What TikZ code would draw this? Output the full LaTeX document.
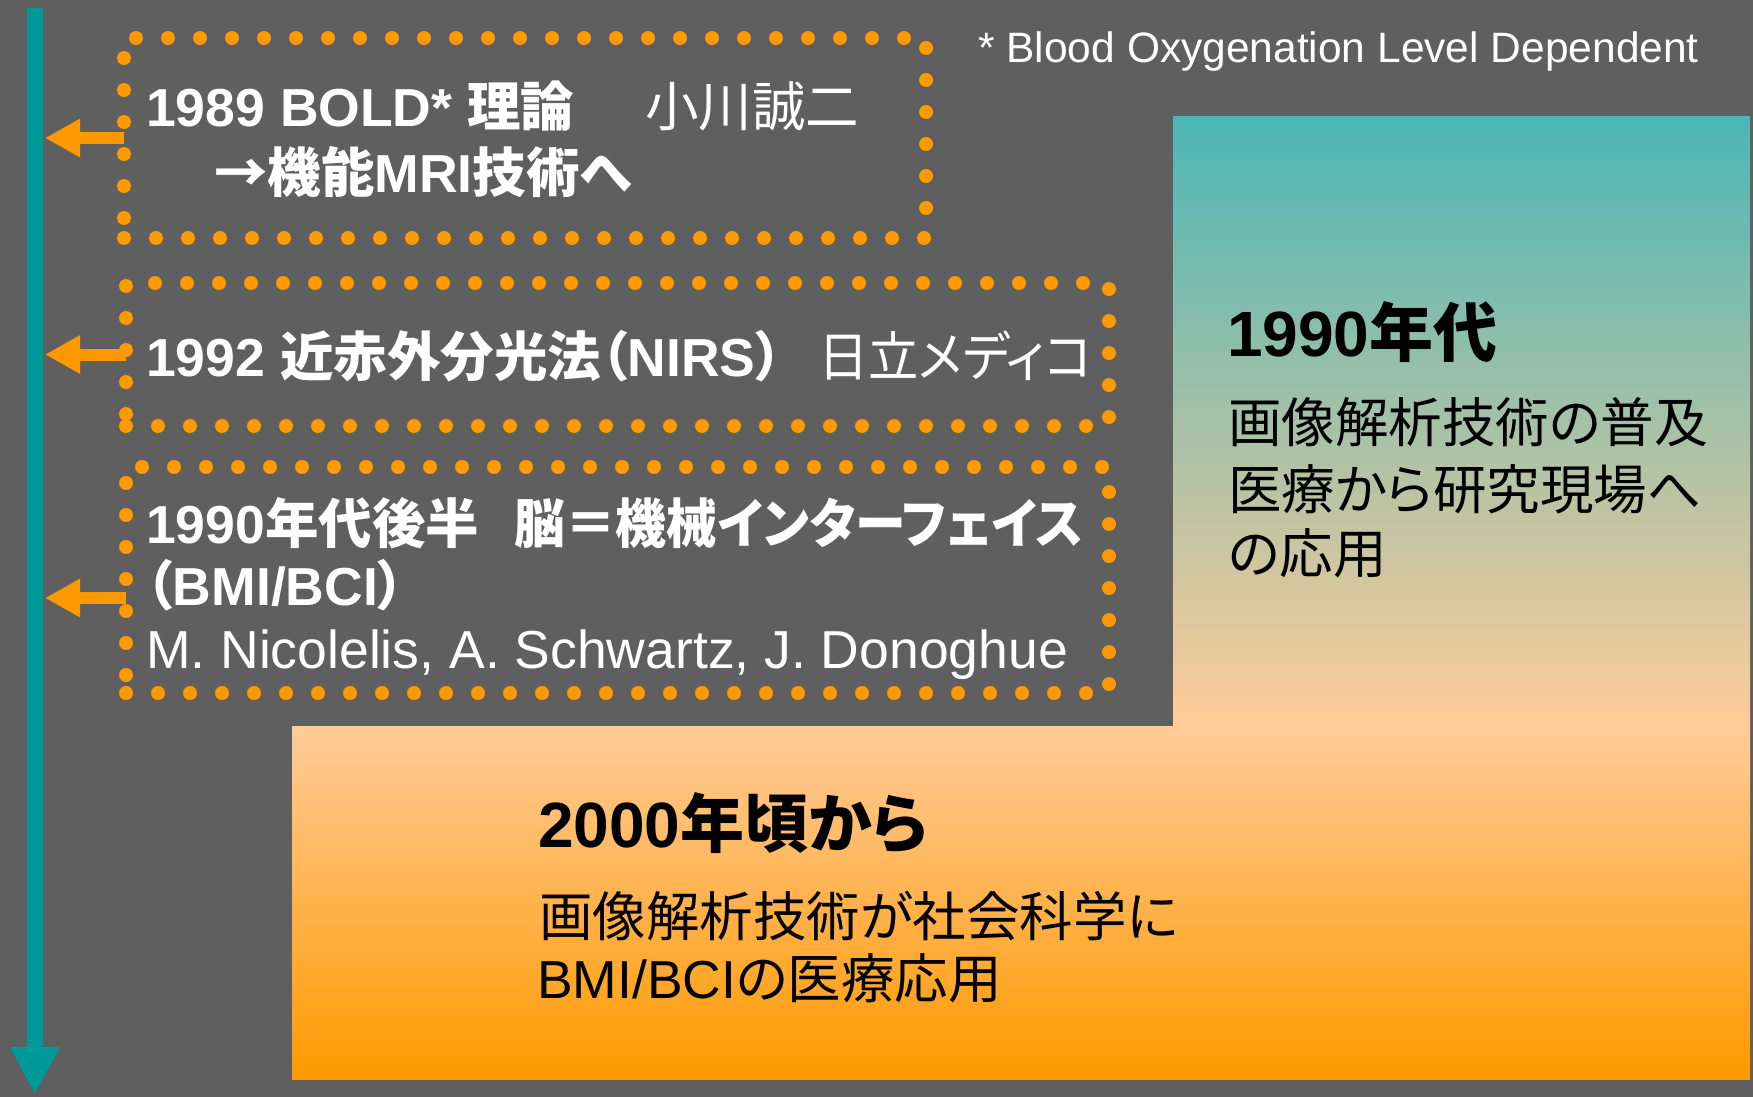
\documentclass[tikz,border=0pt]{standalone}
\usepackage{fontspec}
\setmainfont{Liberation Sans}
\newfontfamily\jp[RawFeature=+palt]{Noto Sans CJK JP}
\usetikzlibrary{arrows.meta}

\definecolor{bggray}{RGB}{95,95,95}
\definecolor{tlteal}{RGB}{0,153,153}
\definecolor{dotorange}{RGB}{255,153,0}
\definecolor{shadeteal}{RGB}{75,182,182}
\definecolor{shadepeach}{RGB}{255,204,153}
\definecolor{shadeorange}{RGB}{255,153,0}

\newcommand{\ja}[1]{{\jp #1}}
\newcommand{\janarrow}[2]{\scalebox{#1}[1]{\jp #2}}

\tikzset{
  dotbox/.style={draw=dotorange, line width=14pt, line cap=round,
    dash pattern=on 0pt off 32pt, anchor=north west, inner sep=0pt, outer sep=0pt},
  timeline/.style={draw=tlteal, line width=16pt, -{Triangle[width=47pt,length=47pt]}},
  feed/.style={draw=dotorange, line width=12pt, shorten >=10pt,
    -{Triangle[width=36pt,length=35pt]}},
  lefttext/.style={anchor=base west, inner sep=0pt, text=white,
    font=\fontsize{53.5pt}{64pt}\selectfont\bfseries},
  notetext/.style={anchor=base west, inner sep=0pt, text=white,
    font=\fontsize{42.5pt}{50pt}\selectfont},
  headtext/.style={anchor=base west, inner sep=0pt, text=black,
    font=\fontsize{64pt}{76pt}\selectfont\bfseries},
  bodytext/.style={anchor=base west, inner sep=0pt, text=black,
    font=\fontsize{53.5pt}{64pt}\selectfont}
}

\begin{document}
\begin{tikzpicture}[x=1pt,y=1pt,yscale=-1,xscale=1]
\useasboundingbox (0,0) rectangle (1753,1097);
%Background
\fill[bggray] (0,0) rectangle (1753,1097);

%Shape: Gradient Rectangle [1990s]
\shade[top color=shadeteal, bottom color=shadepeach] (1173,117) rectangle (1750,726.5);
%Shape: Gradient Rectangle [2000s]
\shade[top color=shadepeach, bottom color=shadeorange] (292,726) rectangle (1750,1079);

%Straight Lines [timeline]
\coordinate (tltop) at (35,8);
\coordinate (tlend) at (35,1094);
\draw[timeline] (tltop) -- (tlend);

%Shape: Dotted Boxes
\node[dotbox, minimum width=802pt, minimum height=200pt] (boldbox) at (124,38) {};
\node[dotbox, minimum width=983pt, minimum height=143pt] (nirsbox) at (126,283) {};
\node[dotbox, minimum width=983pt, minimum height=226pt] (bmibox) at (126,467) {};

%Straight Lines [arrows to timeline]
\coordinate (bmiport) at (126,598);
\draw[feed] (boldbox.west) -- (boldbox.west -| tltop);
\draw[feed] (nirsbox.west) -- (nirsbox.west -| tltop);
\draw[feed] (bmiport) -- (bmiport -| tltop);

% Text Node
\node[notetext] (note) at (978,63) {* Blood Oxygenation Level Dependent};
% Text Node
\node[lefttext] (boldA) at (146,127) {\makebox[499pt][l]{1989 BOLD* \ja{理論}}{\mdseries\ja{小川誠二}}};
% Text Node
\node[lefttext] (boldB) at (214,192) {\ja{→機能}MRI\ja{技術へ}};
% Text Node
\node[lefttext] (nirs) at (146,376) {\makebox[672pt][l]{1992 \ja{近赤外分光法（}NIRS\ja{）}}{\mdseries\janarrow{0.94}{日立メディコ}}};
% Text Node
\node[lefttext] (bmiA) at (146,543) {\makebox[368pt][l]{1990\ja{年代後半}}\janarrow{0.95}{脳＝機械インターフェイス}};
% Text Node
\node[lefttext] (bmiB) at (146,605) {\ja{（}BMI/BCI\ja{）}};
% Text Node
\node[lefttext, font=\fontsize{53.5pt}{64pt}\selectfont] (bmiC) at (146,668) {M. Nicolelis, A. Schwartz, J. Donoghue};

% Text Node
\node[headtext] (ninetiesHead) at (1227,356) {1990\ja{年代}};
% Text Node
\node[bodytext] (ninetiesA) at (1228,442) {\ja{画像解析技術の普及}};
% Text Node
\node[bodytext] (ninetiesB) at (1228,509) {\ja{医療から研究現場へ}};
% Text Node
\node[bodytext] (ninetiesC) at (1228,573) {\ja{の応用}};

% Text Node
\node[headtext] (twoKHead) at (538,847) {2000\ja{年頃から}};
% Text Node
\node[bodytext] (twoKA) at (539,936) {\ja{画像解析技術が社会科学に}};
% Text Node
\node[bodytext] (twoKB) at (537,998) {BMI/BCI\ja{の医療応用}};

\end{tikzpicture}
\end{document}
